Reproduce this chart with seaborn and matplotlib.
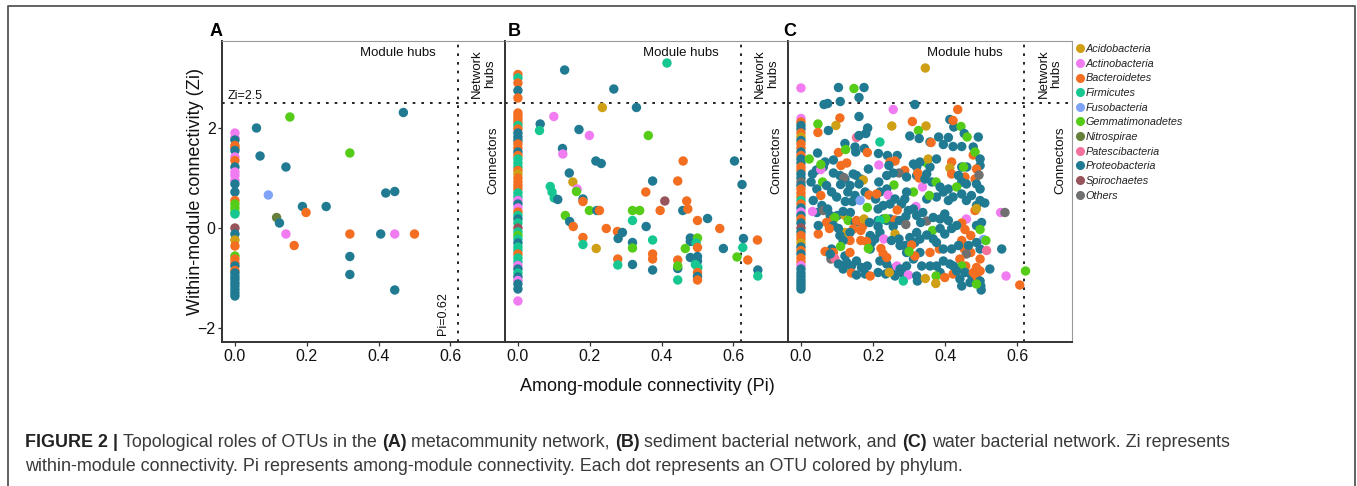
import numpy as np
import pandas as pd
import matplotlib
matplotlib.use('Agg')
import matplotlib.pyplot as plt
from matplotlib.lines import Line2D
import seaborn as sns

# ---------------------------------------------
# Data: Pi = among-module, Zi = within-module
# OTUs sitting on Pi = 0 are kept as separate "column" lists
# ---------------------------------------------
phylum_codes = ['Ac', 'At', 'Ba', 'Fi', 'Fu', 'Ge', 'Ni', 'Pa', 'Pr', 'Sp', 'Ot']
phylum_names = ['Acidobacteria', 'Actinobacteria', 'Bacteroidetes', 'Firmicutes',
                'Fusobacteria', 'Gemmatimonadetes', 'Nitrospirae', 'Patescibacteria',
                'Proteobacteria', 'Spirochaetes', 'Others']
phylum_colors = ['#CF9F16', '#F17CF2', '#F36E21', '#17C792', '#7FA3F7', '#55CC18',
                 '#667F3A', '#F4719C', '#1F7A92', '#97545A', '#707070']

# panel A - metacommunity network
a_col_zi = [1.90, 1.80, 1.76, 1.65, 1.60, 1.55, 1.42, 1.35, 1.22, 1.12,
            1.05, 0.95, 0.88, 0.72, 0.55, 0.48, 0.40, 0.32, 0.28, 0.00,
            -0.12, -0.24, -0.36, -0.56, -0.62, -0.70, -0.76, -0.85, -0.90, -0.97,
            -1.03, -1.10, -1.16, -1.23, -1.30, -1.36]
a_col_phy = ['At', 'At', 'Pr', 'Ba', 'Ba', 'Pr', 'At', 'Ba', 'Pr', 'At',
             'At', 'At', 'Pr', 'Pr', 'Ba', 'Ge', 'Ge', 'Ge', 'Fi', 'Sp',
             'Pr', 'Ac', 'Ba', 'Ge', 'Ba', 'Ba', 'Pr', 'Ba', 'Pr', 'Pr',
             'Pr', 'Pr', 'Pr', 'Pr', 'Pr', 'Pr']
a_pi = [0.060, 0.153, 0.070, 0.142, 0.093, 0.116, 0.124, 0.142, 0.165, 0.188,
        0.198, 0.254, 0.320, 0.320, 0.320, 0.320, 0.406, 0.420, 0.445, 0.445,
        0.445, 0.500, 0.469]
a_zi = [2.00, 2.22, 1.44, 1.22, 0.66, 0.21, 0.10, -0.12, -0.35, 0.43,
        0.31, 0.43, 1.50, -0.12, -0.57, -0.93, -0.12, 0.70, 0.73, -0.12,
        -1.24, -0.12, 2.31]
a_phy = ['Pr', 'Ge', 'Pr', 'Pr', 'Fu', 'Ni', 'Pr', 'At', 'Ba', 'Pr',
         'Ba', 'Pr', 'Ge', 'Ba', 'Pr', 'Pr', 'Pr', 'Pr', 'Pr', 'At',
         'Pr', 'Ba', 'Pr']

# panel B - sediment bacterial network
b_col_zi = [3.07, 3.00, 2.90, 2.75, 2.60, 2.30, 2.24, 2.17, 2.10, 2.05,
            1.98, 1.90, 1.82, 1.75, 1.68, 1.60, 1.52, 1.45, 1.38, 1.30,
            1.22, 1.15, 1.08, 1.00, 0.92, 0.85, 0.78, 0.70, 0.62, 0.55,
            0.48, 0.40, 0.32, 0.25, 0.18, 0.10, 0.00, -0.08, -0.15, -0.22,
            -0.30, -0.38, -0.45, -0.52, -0.60, -0.68, -0.75, -0.82, -0.90, -0.98,
            -1.05, -1.12, -1.22, -1.46]
b_col_phy = ['Ba', 'Fi', 'Ba', 'Pr', 'Ba', 'Ba', 'Ba', 'Ba', 'Ba', 'Fi',
             'Ba', 'Pr', 'Pr', 'Pr', 'Ba', 'Ba', 'Pr', 'Ba', 'Fi', 'Fi',
             'Fi', 'Ba', 'Ac', 'Ba', 'Ba', 'Ba', 'Ba', 'Fi', 'Fi', 'At',
             'Pr', 'At', 'Ba', 'Fi', 'Pr', 'Fi', 'Sp', 'Fi', 'Ge', 'Fi',
             'Pr', 'Fi', 'Fi', 'Ba', 'Fi', 'Fi', 'At', 'Pr', 'Fi', 'Pr',
             'At', 'Pr', 'Pr', 'At']
b_pi = [0.130, 0.415, 0.267, 0.235, 0.330, 0.100, 0.062, 0.060, 0.170, 0.199,
        0.363, 0.124, 0.125, 0.217, 0.232, 0.460, 0.603, 0.143, 0.153, 0.165,
        0.163, 0.090, 0.095, 0.101, 0.111, 0.181, 0.181, 0.375, 0.445, 0.624,
        0.356, 0.409, 0.470, 0.199, 0.220, 0.227, 0.319, 0.339, 0.396, 0.459,
        0.473, 0.132, 0.144, 0.154, 0.319, 0.246, 0.357, 0.500, 0.528, 0.562,
        0.277, 0.291, 0.279, 0.181, 0.181, 0.319, 0.319, 0.375, 0.480, 0.480,
        0.500, 0.496, 0.500, 0.218, 0.466, 0.572, 0.626, 0.628, 0.667, 0.610,
        0.640, 0.668, 0.668, 0.375, 0.375, 0.375, 0.278, 0.278, 0.319, 0.445,
        0.445, 0.445, 0.445, 0.480, 0.500, 0.500, 0.494, 0.501, 0.500, 0.500,
        0.500]
b_zi = [3.16, 3.30, 2.78, 2.41, 2.41, 2.23, 2.08, 1.95, 1.97, 1.85,
        1.85, 1.59, 1.48, 1.34, 1.29, 1.34, 1.34, 1.10, 0.92, 0.78,
        0.73, 0.83, 0.72, 0.60, 0.57, 0.58, 0.53, 0.94, 0.94, 0.87,
        0.72, 0.54, 0.54, 0.35, 0.35, 0.35, 0.35, 0.35, 0.35, 0.35,
        0.38, 0.25, 0.13, 0.03, 0.15, -0.01, 0.03, 0.15, 0.19, -0.01,
        -0.07, -0.09, -0.21, -0.19, -0.33, -0.29, -0.40, -0.24, -0.20, -0.27,
        -0.20, -0.30, -0.39, -0.41, -0.41, -0.41, -0.39, -0.21, -0.24, -0.58,
        -0.64, -0.84, -0.96, -0.52, -0.62, -0.84, -0.62, -0.74, -0.73, -0.64,
        -0.81, -0.76, -1.04, -0.59, -0.57, -0.66, -0.73, -0.79, -0.89, -0.97,
        -1.04]
b_phy = ['Pr', 'Fi', 'Pr', 'Ac', 'Pr', 'At', 'Pr', 'Fi', 'Pr', 'At',
         'Ge', 'Pr', 'At', 'Pr', 'Pr', 'Ba', 'Pr', 'Pr', 'Ac', 'At',
         'Ge', 'Fi', 'Fi', 'Fi', 'Pr', 'Pr', 'Ba', 'Pr', 'Ba', 'Pr',
         'Ba', 'Sp', 'Ba', 'Ge', 'Pr', 'Ba', 'Ge', 'Ge', 'Ba', 'Pr',
         'Ba', 'Ge', 'Pr', 'Ba', 'Fi', 'Ba', 'Pr', 'Ba', 'Pr', 'Ba',
         'Ba', 'Pr', 'Pr', 'Ba', 'Fi', 'Pr', 'Ge', 'Fi', 'Pr', 'Pr',
         'Ge', 'Fi', 'Ba', 'Ac', 'Ge', 'Pr', 'Fi', 'Pr', 'Ba', 'Ge',
         'Ba', 'Pr', 'Fi', 'Ba', 'Ba', 'Pr', 'Ba', 'Fi', 'Pr', 'Ba',
         'Pr', 'Ge', 'Fi', 'Pr', 'Pr', 'Pr', 'Fi', 'Fi', 'Ba', 'Pr',
         'Ba']

# panel C - water bacterial network
c_col_zi = [2.80, 2.19, 2.12, 2.05, 1.98, 1.90, 1.82, 1.75, 1.68, 1.60,
            1.52, 1.45, 1.38, 1.30, 1.22, 1.15, 1.08, 1.00, 0.92, 0.85,
            0.78, 0.70, 0.62, 0.55, 0.48, 0.40, 0.32, 0.25, 0.18, 0.10,
            0.00, -0.08, -0.15, -0.22, -0.30, -0.38, -0.45, -0.52, -0.60, -0.68,
            -0.75, -0.82, -0.90, -0.97, -1.04, -1.10, -1.16, -1.22]
c_col_phy = ['At', 'At', 'Ba', 'Pr', 'Pr', 'Ba', 'Ac', 'Pr', 'Ba', 'Ba',
             'Pr', 'Ba', 'Pr', 'Pr', 'Ba', 'Ba', 'Pr', 'Pr', 'Ot', 'Pr',
             'Ba', 'Ba', 'Ba', 'Fi', 'Ba', 'Pr', 'At', 'Pr', 'Ba', 'Pr',
             'Sp', 'Pr', 'Ba', 'Ba', 'Ac', 'Pr', 'Ba', 'Pr', 'Ba', 'Ba',
             'At', 'Pr', 'Pr', 'Pr', 'Pr', 'Pr', 'Pr', 'Pr']
c_pi = [0.345, 0.104, 0.147, 0.175, 0.109, 0.161, 0.064, 0.074, 0.316, 0.256,
        0.435, 0.161, 0.108, 0.047, 0.047, 0.097, 0.076, 0.252, 0.309, 0.326,
        0.347, 0.413, 0.424, 0.444, 0.422, 0.185, 0.180, 0.154, 0.161, 0.302,
        0.328, 0.409, 0.453, 0.461, 0.492, 0.122, 0.219, 0.382, 0.358, 0.361,
        0.395, 0.422, 0.446, 0.478, 0.150, 0.176, 0.104, 0.124, 0.152, 0.184,
        0.215, 0.240, 0.267, 0.046, 0.023, 0.090, 0.067, 0.111, 0.127, 0.216,
        0.247, 0.261, 0.244, 0.349, 0.330, 0.312, 0.321, 0.358, 0.353, 0.376,
        0.418, 0.446, 0.460, 0.478, 0.483, 0.497, 0.497, 0.043, 0.062, 0.032,
        0.055, 0.055, 0.090, 0.108, 0.122, 0.119, 0.145, 0.154, 0.166, 0.173,
        0.187, 0.288, 0.272, 0.256, 0.238, 0.216, 0.258, 0.293, 0.321, 0.324,
        0.328, 0.337, 0.344, 0.363, 0.349, 0.375, 0.386, 0.409, 0.413, 0.418,
        0.451, 0.455, 0.483, 0.487, 0.437, 0.446, 0.494, 0.432, 0.459, 0.487,
        0.497, 0.028, 0.044, 0.060, 0.055, 0.071, 0.085, 0.099, 0.110, 0.130,
        0.143, 0.123, 0.136, 0.150, 0.161, 0.178, 0.164, 0.189, 0.184, 0.207,
        0.219, 0.238, 0.210, 0.242, 0.261, 0.247, 0.214, 0.228, 0.312, 0.293,
        0.288, 0.279, 0.319, 0.267, 0.298, 0.312, 0.349, 0.376, 0.395, 0.356,
        0.409, 0.422, 0.446, 0.459, 0.473, 0.510, 0.497, 0.487, 0.483, 0.487,
        0.554, 0.566, 0.034, 0.044, 0.058, 0.032, 0.062, 0.074, 0.081, 0.101,
        0.071, 0.090, 0.094, 0.122, 0.117, 0.137, 0.131, 0.150, 0.154, 0.171,
        0.175, 0.190, 0.214, 0.228, 0.238, 0.247, 0.235, 0.219, 0.261, 0.145,
        0.166, 0.090, 0.079, 0.122, 0.104, 0.136, 0.048, 0.048, 0.214, 0.219,
        0.256, 0.273, 0.291, 0.321, 0.291, 0.349, 0.332, 0.338, 0.367, 0.386,
        0.399, 0.409, 0.365, 0.459, 0.446, 0.455, 0.471, 0.418, 0.432, 0.487,
        0.501, 0.497, 0.386, 0.399, 0.321, 0.349, 0.330, 0.192, 0.196, 0.205,
        0.230, 0.166, 0.182, 0.136, 0.261, 0.272, 0.251, 0.302, 0.316, 0.275,
        0.289, 0.307, 0.222, 0.228, 0.293, 0.312, 0.330, 0.316, 0.358, 0.384,
        0.367, 0.376, 0.395, 0.418, 0.446, 0.453, 0.471, 0.506, 0.513, 0.437,
        0.465, 0.487, 0.497, 0.515, 0.459, 0.441, 0.457, 0.487, 0.497, 0.557,
        0.108, 0.117, 0.122, 0.085, 0.110, 0.067, 0.090, 0.083, 0.094, 0.081,
        0.104, 0.127, 0.117, 0.140, 0.136, 0.140, 0.154, 0.168, 0.184, 0.178,
        0.154, 0.192, 0.219, 0.238, 0.214, 0.235, 0.256, 0.261, 0.192, 0.238,
        0.187, 0.266, 0.245, 0.275, 0.293, 0.284, 0.298, 0.300, 0.284, 0.321,
        0.323, 0.335, 0.358, 0.345, 0.376, 0.386, 0.395, 0.413, 0.375, 0.374,
        0.399, 0.422, 0.446, 0.423, 0.432, 0.441, 0.446, 0.455, 0.474, 0.469,
        0.478, 0.487, 0.497, 0.497, 0.499, 0.500, 0.487, 0.524, 0.569, 0.623,
        0.607]
c_zi = [3.20, 2.81, 2.79, 2.81, 2.53, 2.61, 2.47, 2.49, 2.47, 2.37,
        2.37, 2.23, 2.20, 2.08, 1.91, 2.05, 1.95, 2.04, 2.13, 1.95,
        2.04, 2.17, 2.02, 2.03, 2.15, 2.00, 1.89, 1.81, 1.85, 1.84,
        1.79, 1.81, 1.89, 1.82, 1.82, 1.69, 1.72, 1.82, 1.72, 1.71,
        1.67, 1.63, 1.63, 1.62, 1.62, 1.59, 1.51, 1.57, 1.52, 1.51,
        1.49, 1.45, 1.45, 1.50, 1.38, 1.36, 1.32, 1.25, 1.30, 1.26,
        1.32, 1.34, 1.25, 1.30, 1.32, 1.28, 1.22, 1.22, 1.38, 1.38,
        1.32, 1.22, 1.22, 1.46, 1.52, 1.38, 1.25, 1.16, 1.22, 1.08,
        1.17, 1.27, 1.10, 1.05, 0.98, 1.01, 1.08, 1.05, 0.98, 0.96,
        1.18, 1.15, 1.10, 1.10, 1.05, 0.92, 0.86, 1.02, 1.05, 1.10,
        1.00, 0.82, 0.98, 0.92, 1.08, 0.92, 0.82, 0.78, 1.20, 1.08,
        1.22, 1.02, 0.98, 1.18, 1.05, 0.92, 1.06, 0.82, 0.88, 0.88,
        0.78, 0.92, 0.78, 0.92, 0.65, 0.85, 0.72, 0.62, 0.87, 0.72,
        0.53, 0.53, 0.85, 0.65, 0.88, 0.72, 0.55, 0.66, 0.41, 0.58,
        0.72, 0.78, 0.68, 0.66, 0.58, 0.48, 0.38, 0.45, 0.72, 0.72,
        0.58, 0.48, 0.43, 0.36, 0.35, 0.38, 0.58, 0.62, 0.72, 0.65,
        0.55, 0.62, 0.68, 0.55, 0.65, 0.50, 0.55, 0.45, 0.35, 0.39,
        0.31, 0.31, 0.55, 0.31, 0.45, 0.33, 0.35, 0.38, 0.25, 0.25,
        0.11, 0.18, 0.21, 0.25, 0.33, 0.31, 0.15, 0.11, 0.15, 0.03,
        0.18, 0.11, 0.15, 0.18, 0.15, 0.18, 0.19, 0.15, 0.16, -0.02,
        -0.05, 0.05, -0.01, -0.09, -0.01, -0.09, -0.12, 0.05, 0.03, -0.09,
        0.03, 0.15, 0.23, 0.25, 0.07, 0.14, 0.11, 0.31, 0.21, 0.18,
        0.28, 0.15, -0.05, 0.18, 0.10, -0.03, -0.15, -0.01, 0.05, 0.05,
        0.11, -0.03, -0.01, -0.12, -0.09, -0.14, -0.22, -0.15, -0.29, -0.22,
        -0.22, -0.25, -0.27, -0.25, -0.12, -0.22, -0.25, -0.19, -0.29, -0.35,
        -0.35, -0.34, -0.41, -0.52, -0.49, -0.62, -0.49, -0.56, -0.49, -0.42,
        -0.22, -0.29, -0.42, -0.42, -0.25, -0.42, -0.49, -0.23, -0.25, -0.35,
        -0.35, -0.29, -0.42, -0.45, -0.52, -0.62, -0.76, -0.79, -0.62, -0.42,
        -0.15, -0.25, -0.56, -0.42, -0.37, -0.47, -0.49, -0.62, -0.61, -0.52,
        -0.72, -0.69, -0.82, -0.76, -0.49, -0.90, -0.66, -0.79, -0.76, -0.92,
        -0.94, -0.42, -0.66, -0.72, -0.89, -0.92, -0.82, -0.96, -0.96, -0.59,
        -0.41, -0.76, -0.89, -0.82, -0.76, -0.92, -0.94, -0.47, -1.06, -0.96,
        -1.06, -0.76, -0.76, -1.01, -0.76, -0.89, -0.66, -0.72, -0.96, -1.11,
        -0.99, -0.92, -0.76, -0.76, -0.86, -1.02, -1.16, -0.89, -0.96, -1.09,
        -0.89, -0.96, -0.86, -1.06, -1.16, -1.24, -1.12, -0.82, -0.96, -0.86,
        -1.14]
c_phy = ['Ac', 'Pr', 'Ge', 'Pr', 'Pr', 'Pr', 'Pr', 'Pr', 'Pr', 'At',
         'Ba', 'Pr', 'Ba', 'Ge', 'Ba', 'Ac', 'Pr', 'Ac', 'Ba', 'Ge',
         'Ac', 'Pr', 'Pr', 'Ge', 'Ba', 'Pr', 'Pr', 'Pa', 'Pr', 'Pr',
         'Pr', 'Pr', 'Pr', 'Ge', 'Pr', 'Pr', 'Fi', 'Pr', 'Pr', 'Ba',
         'Pr', 'Pr', 'Pr', 'Pr', 'Pr', 'Pr', 'Ba', 'Ge', 'Pr', 'Ba',
         'Pr', 'Pr', 'Pr', 'Pr', 'Ge', 'Pr', 'Pr', 'Ba', 'Ba', 'At',
         'Ba', 'Ba', 'Pr', 'Ge', 'Pr', 'Pr', 'Pr', 'Pr', 'Ac', 'Pr',
         'Ba', 'Pr', 'Pr', 'Ba', 'Ge', 'Pr', 'Pr', 'Pr', 'Pr', 'Pr',
         'At', 'Ge', 'Pr', 'Pr', 'Pr', 'Ot', 'Pr', 'Pr', 'Pr', 'Ac',
         'Pr', 'Ba', 'Ot', 'Pr', 'Pr', 'Pr', 'Ge', 'Pr', 'Pr', 'Ba',
         'Ba', 'At', 'Pr', 'Pr', 'Pr', 'Ge', 'Pr', 'Pr', 'Ac', 'Ba',
         'Ge', 'Ba', 'Ba', 'Ba', 'Pr', 'Pr', 'Ot', 'Ge', 'Pr', 'Pr',
         'Pr', 'Pr', 'Pr', 'Ge', 'Ba', 'Pr', 'Pr', 'Pr', 'Pr', 'Pr',
         'Pr', 'Pr', 'Pr', 'Pr', 'Pr', 'Pr', 'Fu', 'Ba', 'Ge', 'Pr',
         'Pr', 'Pr', 'Ba', 'At', 'Pr', 'Pr', 'Pr', 'Pr', 'Ge', 'Pr',
         'Pr', 'Pr', 'At', 'Ba', 'Pr', 'Pr', 'Pr', 'Pr', 'Pr', 'Ge',
         'Pr', 'Pr', 'Pr', 'Pr', 'Pr', 'Pr', 'Pr', 'Pr', 'Ba', 'Ac',
         'At', 'Ot', 'Pr', 'Pr', 'Pr', 'At', 'Ot', 'Pr', 'Pr', 'Pr',
         'Ba', 'Ba', 'Ge', 'Ac', 'Pr', 'Pr', 'Ge', 'Pr', 'Ba', 'Ba',
         'Ac', 'Pr', 'Pr', 'Pr', 'Pr', 'Pr', 'Ge', 'Fi', 'Ba', 'Ba',
         'Ba', 'Pr', 'Ba', 'Ac', 'Pr', 'Pr', 'Ba', 'Pr', 'Pr', 'Pr',
         'Pr', 'Pr', 'Pr', 'Pr', 'Ot', 'Ot', 'Pr', 'Pr', 'Pr', 'Pr',
         'Pr', 'Pr', 'Ge', 'At', 'Ba', 'Ba', 'Ba', 'Pr', 'Pr', 'Pr',
         'Pr', 'Ge', 'Pr', 'Pr', 'Pr', 'Pr', 'Pr', 'Pr', 'Pr', 'Pr',
         'At', 'Ba', 'Ba', 'Ba', 'Ac', 'Pr', 'Pr', 'Pr', 'Pr', 'Pr',
         'Pr', 'Ba', 'Ba', 'Ba', 'Pr', 'Pr', 'Pr', 'Ba', 'Ba', 'Ba',
         'Pr', 'Pr', 'Pr', 'Pr', 'Ba', 'Ba', 'Ba', 'Fu', 'Ge', 'Pr',
         'Pr', 'Pr', 'Pr', 'Pa', 'Ot', 'Ba', 'Ba', 'Ba', 'Ba', 'Pr',
         'Pr', 'Pr', 'Pr', 'Pr', 'Ge', 'Ba', 'Ba', 'Ot', 'Pa', 'Pr',
         'Pr', 'Pr', 'Pr', 'Pr', 'Ba', 'Ba', 'Pr', 'Pr', 'Pr', 'Pr',
         'Pr', 'Pr', 'Pr', 'Pr', 'Pr', 'Pr', 'Pr', 'Pr', 'Ba', 'Ba',
         'Ge', 'At', 'Ac', 'Pr', 'Pr', 'Pr', 'At', 'Ge', 'Fi', 'Pr',
         'Pr', 'Pr', 'Pr', 'Ac', 'Pr', 'Pr', 'Pr', 'Pr', 'Ge', 'Ac',
         'Ba', 'Ba', 'Ge', 'Pr', 'Pr', 'Pr', 'Pr', 'Pr', 'Pr', 'Pr',
         'Ba', 'Ba', 'Ba', 'Pr', 'Pr', 'Pr', 'Ge', 'Pr', 'At', 'Ge',
         'Ba']

x_ticks = [0.0, 0.2, 0.4, 0.6]
x_ticklabels = ['0.0', '0.2', '0.4', '0.6']
y_ticks = [-2, 0, 2]
zi_cut = 2.5
pi_cut = 0.62

# ---------------------------------------------
# Style
# ---------------------------------------------
sns.set_theme(style='white')
plt.rcParams['font.family'] = ['Liberation Sans', 'DejaVu Sans']
plt.rcParams['axes.unicode_minus'] = True

W, H = 1357, 486
fig = plt.figure(figsize=(W / 100, H / 100), dpi=100)
fig.patch.set_facecolor('white')


def fx(px):
    return px / W


def fy(py):
    return 1 - py / H


name_of = dict(zip(phylum_codes, phylum_names))
palette = dict(zip(phylum_names, phylum_colors))


def make_frame(col_zi, col_phy, pi, zi, phy):
    col = pd.DataFrame({'Pi': np.zeros(len(col_zi)), 'Zi': col_zi, 'code': col_phy})
    rest = pd.DataFrame({'Pi': pi, 'Zi': zi, 'code': phy})
    df = pd.concat([col, rest], ignore_index=True)
    df['Phylum'] = df['code'].map(name_of)
    return df


panels = [
    ('A', make_frame(a_col_zi, a_col_phy, a_pi, a_zi, a_phy), 222, 283, 216),
    ('B', make_frame(b_col_zi, b_col_phy, b_pi, b_zi, b_phy), 505, 283, 514),
    ('C', make_frame(c_col_zi, c_col_phy, c_pi, c_zi, c_phy), 788, 284, 790),
]
top_px, bottom_px = 41, 342
dots = (0, (1.6, 3.6))

for i, (tag, df, left_px, width_px, tag_px) in enumerate(panels):
    ax = fig.add_axes([fx(left_px), fy(bottom_px), width_px / W, (bottom_px - top_px) / H])
    sns.scatterplot(data=df, x='Pi', y='Zi', hue='Phylum', hue_order=phylum_names,
                    palette=palette, s=46, linewidth=0, legend=False, ax=ax, zorder=3)
    ax.set_xlim(-0.036, 0.752)
    ax.set_ylim(-2.28, 3.74)

    ax.axhline(zi_cut, color='black', lw=1.2, ls=dots, zorder=2)
    ax.axvline(pi_cut, color='black', lw=1.2, ls=dots, zorder=2)

    ax.text(0.455, 3.49, 'Module hubs', ha='center', va='center', fontsize=9.5, color='#111')
    ax.text(0.692, 3.09, 'Network\nhubs', rotation=90, ha='center', va='center',
            fontsize=9.5, linespacing=1.05, color='#111')
    ax.text(0.72, 1.36, 'Connectors', rotation=90, ha='center', va='center',
            fontsize=9.5, color='#111')

    ax.set_xticks(x_ticks)
    ax.set_xticklabels(x_ticklabels)
    ax.set_xlabel('')
    ax.set_ylabel('')
    ax.tick_params(axis='x', direction='out', length=3, width=0.9, color='#333',
                   labelsize=11.5, pad=2, labelcolor='#111', bottom=True)

    for side in ['left', 'bottom']:
        ax.spines[side].set_color('#333')
        ax.spines[side].set_linewidth(1.4)
    ax.spines['top'].set_color('#999')
    ax.spines['top'].set_linewidth(0.8)
    if i == 2:
        ax.spines['right'].set_color('#999')
        ax.spines['right'].set_linewidth(0.8)
    else:
        ax.spines['right'].set_visible(False)

    if i == 0:
        ax.set_yticks(y_ticks)
        ax.tick_params(axis='y', direction='out', length=3, width=0.9, color='#333',
                       labelsize=11.5, pad=1.5, labelcolor='#111', left=True)
        ax.text(-0.02, 2.53, 'Zi=2.5', ha='left', va='bottom', fontsize=9, color='#111')
        ax.text(0.578, -2.13, 'Pi=0.62', rotation=90, ha='center', va='bottom',
                fontsize=9, color='#111')
    else:
        ax.set_yticks([])

    fig.text(fx(tag_px), fy(32), tag, ha='center', va='center', fontsize=13,
             fontweight='bold', color='black')

fig.text(fx(196), fy(191), 'Within-module connectivity (Zi)', rotation=90,
         ha='center', va='center', fontsize=13, color='#111')
fig.text(fx(647), fy(386), 'Among-module connectivity (Pi)',
         ha='center', va='center', fontsize=13, color='#111')

# legend
handles = [Line2D([0], [0], marker='o', ls='', markersize=6.5, markeredgewidth=0,
                  markerfacecolor=c) for c in phylum_colors]
fig.legend(handles, phylum_names, loc='upper left', bbox_to_anchor=(fx(1076), fy(44)),
           frameon=False, prop={'style': 'italic', 'size': 7.8}, handlelength=0.7,
           handletextpad=0.15, labelspacing=0.43, borderpad=0, borderaxespad=0,
           labelcolor='#222')

# outer box of the figure
fig.add_artist(Line2D([fx(8), fx(8), fx(1355), fx(1355)], [0, fy(6), fy(6), 0],
                      transform=fig.transFigure, color='#555', lw=1.3))

# caption
renderer = fig.canvas.get_renderer()
cap_size = 12.9


def text_width(s, weight):
    t = fig.text(0, 0, s, fontsize=cap_size, fontweight=weight)
    w = t.get_window_extent(renderer=renderer).width
    t.remove()
    return w


space_px = text_width('x x', 'normal') - text_width('xx', 'normal')


def write_line(parts, x_px, y_px):
    x = x_px
    for s, bold in parts:
        weight = 'bold' if bold else 'normal'
        t = fig.text(fx(x), fy(y_px), s, fontsize=cap_size, fontweight=weight,
                     color='#222' if bold else '#3a3a3a', ha='left', va='center')
        x += t.get_window_extent(renderer=renderer).width + space_px


write_line([('FIGURE 2 |', True), ('Topological roles of OTUs in the', False), ('(A)', True),
            ('metacommunity network,', False), ('(B)', True),
            ('sediment bacterial network, and', False), ('(C)', True),
            ('water bacterial network. Zi represents', False)], 25, 442)
write_line([('within-module connectivity. Pi represents among-module connectivity. '
             'Each dot represents an OTU colored by phylum.', False)], 25, 466)

fig.savefig('out.png', dpi=100, facecolor='white')
